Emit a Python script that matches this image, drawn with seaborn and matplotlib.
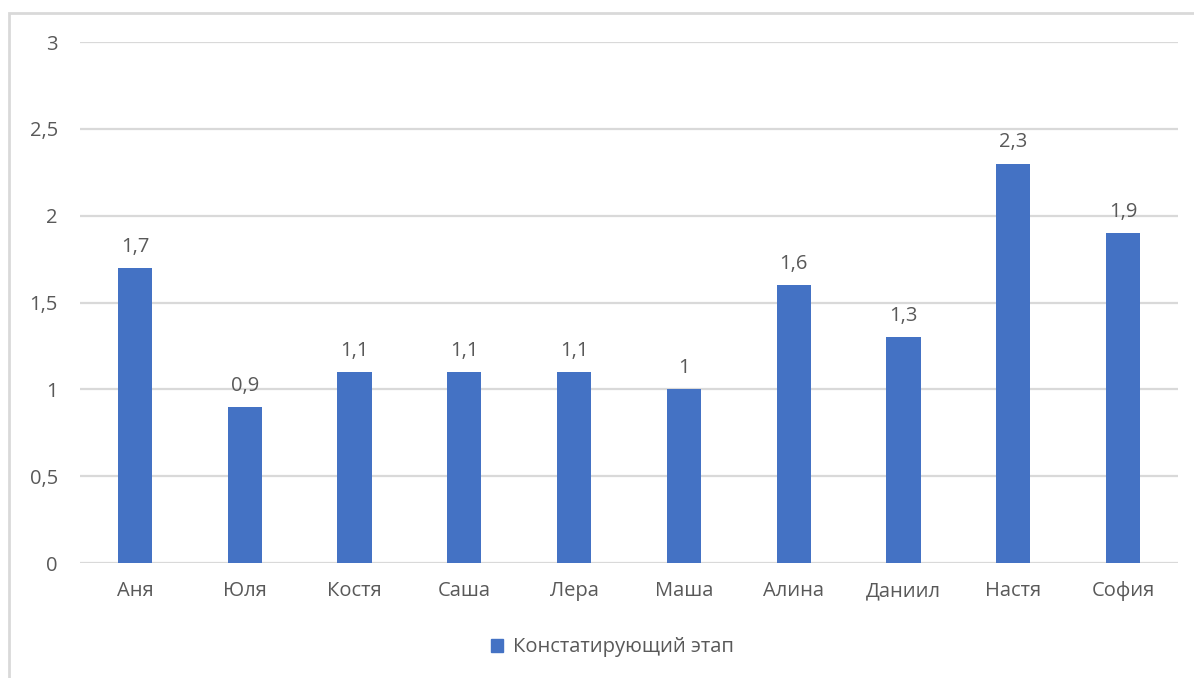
import matplotlib
matplotlib.use("Agg")
import matplotlib.pyplot as plt
import matplotlib.patches as mpatches
import seaborn as sns
import pandas as pd

names = ["Аня", "Юля", "Костя", "Саша", "Лера", "Маша", "Алина", "Даниил", "Настя", "София"]
scores = [1.7, 0.9, 1.1, 1.1, 1.1, 1.0, 1.6, 1.3, 2.3, 1.9]
series_name = "Констатирующий этап"
y_ticks = [0, 0.5, 1, 1.5, 2, 2.5, 3]

sns.set_theme(style="white")
plt.rcParams["font.family"] = ["Open Sans", "DejaVu Sans"]

BLUE = "#4472C4"
TEXT = "#595959"
GRID = "#D9D9D9"
FS = 14.5

df = pd.DataFrame({"name": names, "score": scores})

fig = plt.figure(figsize=(11.94, 6.78), dpi=100)
ax = fig.add_axes([0.067, 0.1696, 0.9196, 0.7684])

sns.barplot(data=df, x="name", y="score", color=BLUE, saturation=1,
            width=0.31, linewidth=0, ax=ax, label=series_name)

ax.set_ylim(0, 3)
ax.set_xlim(-0.5, len(names) - 0.5)
ax.set_yticks(y_ticks)
ax.set_yticklabels([f"{t:g}".replace(".", ",") for t in y_ticks])
ax.set_xlabel("")
ax.set_ylabel("")
ax.yaxis.grid(True, color=GRID, linewidth=1.6)
ax.set_axisbelow(True)
for s in ax.spines.values():
    s.set_visible(False)
ax.tick_params(axis="both", length=0, labelsize=FS, colors=TEXT)
ax.tick_params(axis="y", pad=16)
ax.tick_params(axis="x", pad=13)

for bar, v in zip(ax.patches, scores):
    ax.annotate(f"{v:g}".replace(".", ","),
                (bar.get_x() + bar.get_width() / 2, bar.get_height()),
                xytext=(0, 8), textcoords="offset points",
                ha="center", va="bottom", fontsize=FS, color=TEXT)

handle = mpatches.Patch(color=BLUE, label=series_name)
fig.legend(handles=[handle], loc="center", bbox_to_anchor=(0.513, 0.045),
           frameon=False, fontsize=FS, labelcolor=TEXT,
           handlelength=0.6, handleheight=0.6, handletextpad=0.5)
if ax.get_legend() is not None:
    ax.get_legend().remove()

# chart frame
fig.patches.append(mpatches.Rectangle((9 / 1194, -0.05), 1.2, 1 - 13 / 678 + 0.05,
                                      transform=fig.transFigure, fill=False,
                                      edgecolor="#D9D9D9", linewidth=2))

fig.savefig("out.png", dpi=100)
